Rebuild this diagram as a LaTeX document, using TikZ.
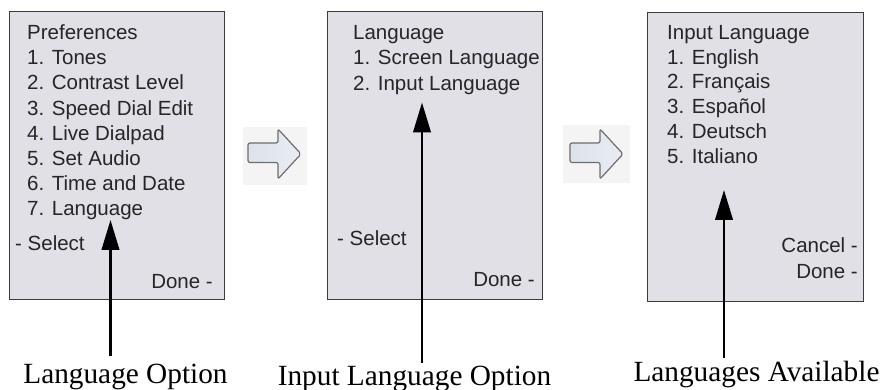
\documentclass[tikz,border=0pt]{standalone}
\usepackage{fontspec}
\setmainfont{Liberation Serif}
\setsansfont{Liberation Sans}
\usetikzlibrary{arrows.meta}
\definecolor{scrfill}{HTML}{E0E0E6}
\definecolor{scredge}{HTML}{3C3C3C}
\definecolor{scrtext}{HTML}{262626}
\definecolor{hfill}{HTML}{DCE2EB}
\definecolor{hedge}{HTML}{6E6E6E}
\definecolor{hback}{HTML}{F4F4F4}
\tikzset{
  screen/.style={draw=scredge, fill=scrfill, line width=1.3pt, inner sep=0pt, anchor=north west},
  itm/.style={anchor=base west, inner sep=0pt, text=scrtext, font=\sffamily\fontsize{20.5}{25}\selectfont},
  itmr/.style={itm, anchor=base east},
  lbl/.style={anchor=base, inner sep=0pt, font=\fontsize{29.3}{33}\selectfont},
  pointer/.style={line width=2.5pt, -{Triangle[width=17.5pt,length=30pt]}},
  hollow/.style={draw=hedge, line width=1.2pt, rounded corners=2pt, left color=hfill, right color=hfill!60!white},
  hback/.style={fill=hback, draw=none}
}
\begin{document}
\begin{tikzpicture}[x=1pt,y=-1pt]
\useasboundingbox (0,0) rectangle (881,390);

% screens
\node[screen, minimum width=215pt, minimum height=288pt] (s1) at (9,11) {};
\node[screen, minimum width=215pt, minimum height=288pt] (s2) at (327,11) {};
\node[screen, minimum width=216pt, minimum height=289pt] (s3) at (647,12) {};

% screen 1 text
\node[itm] (p0) at (27,40) {Preferences};
\node[itm] (p1) at (27,65) {1. Tones};
\node[itm] (p2) at (27,90) {2. Contrast Level};
\node[itm] (p3) at (27,115.5) {3. Speed Dial Edit};
\node[itm] (p4) at (27,141) {4. Live Dialpad};
\node[itm] (p5) at (27,166) {5. Set Audio};
\node[itm] (p6) at (27,191) {6. Time and Date};
\node[itm] (p7) at (27,216) {7. Language};
\node[itm] (p8) at (15,251) {- Select};
\node[itmr] (p9) at (213,288) {Done -};

% screen 2 text
\node[itm] (q0) at (353,40) {Language};
\node[itm] (q1) at (353,65) {1. Screen Language};
\node[itm] (q2) at (353,90.5) {2. Input Language};
\node[itm] (q3) at (337,246) {- Select};
\node[itmr] (q4) at (535,287) {Done -};

% screen 3 text
\node[itm] (r0) at (667,40) {Input Language};
\node[itm] (r1) at (667,64.5) {1. English};
\node[itm] (r2) at (667,89) {2. Français};
\node[itm] (r3) at (667,114) {3. Español};
\node[itm] (r4) at (667,138.5) {4. Deutsch};
\node[itm] (r5) at (667,163.5) {5. Italiano};
\node[itmr] (r6) at (858,253) {Cancel -};
\node[itmr] (r7) at (858,278) {Done -};

% hollow arrows between screens
\begin{scope}[shift={(248,0)}]
  \path[hback] (-5,127) rectangle (59,185);
  \path[hollow] (0,143) -- (30,143) -- (30,129) -- (53,154) -- (30,179) -- (30,162.5) -- (0,162.5) -- cycle;
\end{scope}
\begin{scope}[shift={(570,0)}]
  \path[hback] (-7,125) rectangle (60,183);
  \path[hollow] (0,143) -- (30,143) -- (30,129) -- (53,154) -- (30,179) -- (30,162.5) -- (0,162.5) -- cycle;
\end{scope}

% labels
\node[lbl] (l1) at (125.5,383) {Language Option};
\node[lbl] (l2) at (414.5,385) {Input Language Option};
\node[lbl] (l3) at (756.5,381) {Languages Available};

% pointers
\coordinate (a1b) at (110.5,356);
\coordinate (a1t) at (110.5,220);
\coordinate (a2b) at (422,362.5);
\coordinate (a2t) at (422,102.5);
\coordinate (a3b) at (724,358);
\coordinate (a3t) at (724,190);
\draw[pointer] (a1b) -- (a1t);
\draw[pointer] (a2b) -- (a2t);
\draw[pointer] (a3b) -- (a3t);
\end{tikzpicture}
\end{document}
